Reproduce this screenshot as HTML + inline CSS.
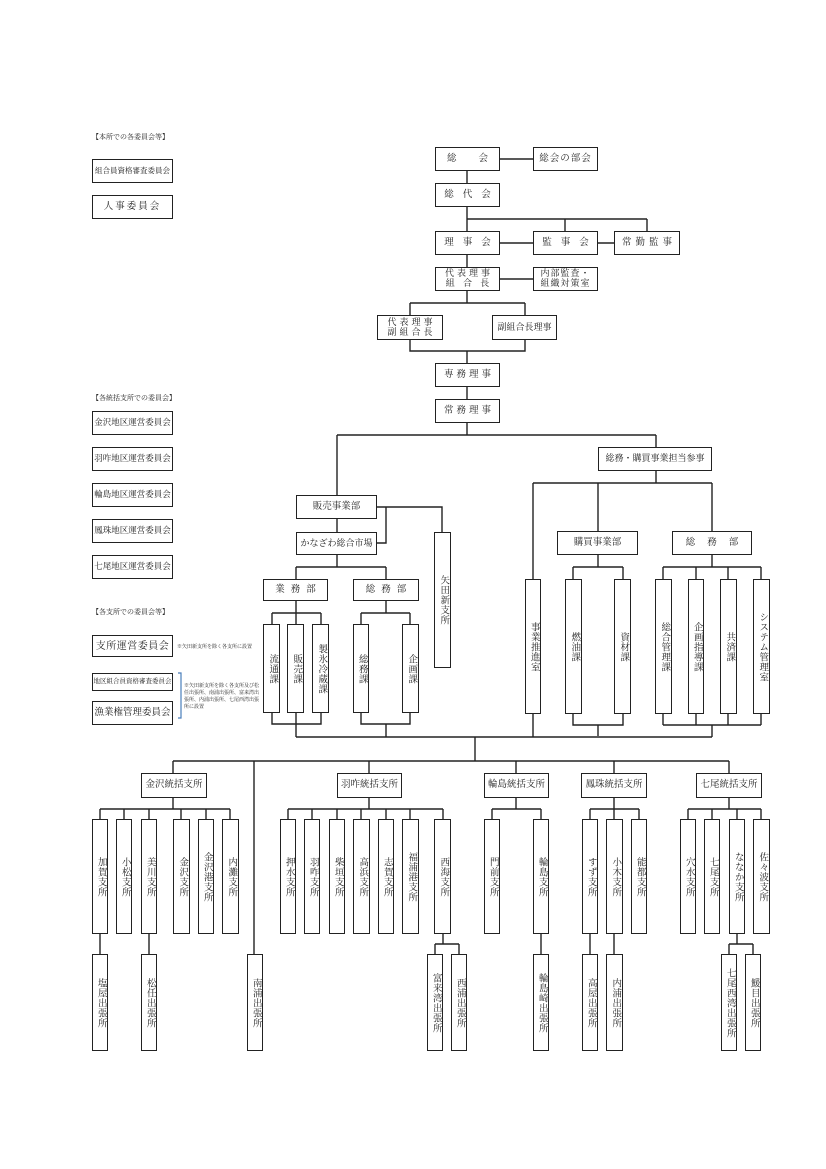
<!DOCTYPE html>
<html><head><meta charset="utf-8"><style>
body{margin:0;background:#fff;}
#c{position:relative;width:826px;height:1169px;overflow:hidden;background:#fff;font-family:"Liberation Serif","Noto Serif CJK SC",serif;color:#222;}
.b{position:absolute;box-sizing:border-box;border:1.6px solid #222;background:#fff;display:flex;align-items:center;justify-content:center;font-size:9.5px;white-space:nowrap;line-height:1.1;text-align:center;}
.v{writing-mode:vertical-rl;text-orientation:upright;letter-spacing:0.5px;font-size:9.5px;line-height:1;}
.t{position:absolute;font-size:7px;white-space:nowrap;}
svg{position:absolute;left:0;top:0;}
</style></head><body><div id="c">
<svg width="826" height="1169"><g stroke="#222" stroke-width="1.4" fill="none">
<path d="M500 159H533M467 171V183M467 207V231M467 219H647M565 219V231M647 219V231M500 243H533M598 243H614M467 255V267M500 279H533M467 291V303M410 303H525M410 303V315M525 303V315M410 340V351H525V340M467 351V363M467 387V399M467 423V435M337 435H656M337 435V495M656 435V447"/>
<path d="M656 471V483M533 483H712M533 483V579M598 483V531M712 483V531M598 555V567M573 567H623M573 567V579M623 567V579M573 714V725H623V714M598 725V736M712 555V567M663 567H761M663 567V579M696 567V579M728 567V579M761 567V579M663 714V725M696 714V725M728 714V725M761 714V725M663 725H761M712 725V737M533 714V737"/>
<path d="M337 519V532M377 507H386V543H377M386 507H442V532M337 555V567M296 567H386M296 567V579M386 567V579M296 601V613M272 613H321M272 613V624M296 613V624M321 613V624M272 713V724H321V713M296 713V724M296 724V737M386 601V613M361 613H410M361 613V624M410 613V624M361 713V724H410V713M386 724V737M296 737H712M475 737V761"/>
<path d="M173 761H729M173 761V773M369 761V773M516 761V773M614 761V773M729 761V773M254 761V954"/>
<path d="M173 798V809M100 809H230M100 809V819M124 809V819M149 809V819M181 809V819M206 809V819M230 809V819M100 934V954M149 934V954"/>
<path d="M369 798V809M288 809H443M288 809V819M312 809V819M337 809V819M361 809V819M386 809V819M410 809V819M443 809V819M443 934V944M435 944H459M435 944V954M459 944V954"/>
<path d="M516 798V809M492 809H541M492 809V819M541 809V819M541 934V954"/>
<path d="M614 798V809M590 809H639M590 809V819M614 809V819M639 809V819M590 934V954M614 934V954"/>
<path d="M729 798V809M688 809H761M688 809V819M712 809V819M737 809V819M761 809V819M737 934V944M729 944H753M729 944V954M753 944V954"/>
</g>
<path d="M178 673H181V718H178" stroke="#4a7ebb" stroke-width="1.2" fill="none"/>
</svg>

<div class="t" style="left:92px;top:132px">【本所での各委員会等】</div>
<div class="b" style="left:92px;top:159px;width:81px;height:24px;font-size:7.5px">組合員資格審査委員会</div>
<div class="b" style="left:92px;top:195px;width:81px;height:24px;letter-spacing:2px">人事委員会</div>
<div class="t" style="left:92px;top:393px">【各統括支所での委員会】</div>
<div class="b" style="left:92px;top:411px;width:81px;height:24px;font-size:8.5px">金沢地区運営委員会</div>
<div class="b" style="left:92px;top:447px;width:81px;height:24px;font-size:8.5px">羽咋地区運営委員会</div>
<div class="b" style="left:92px;top:483px;width:81px;height:24px;font-size:8.5px">輪島地区運営委員会</div>
<div class="b" style="left:92px;top:519px;width:81px;height:24px;font-size:8.5px">鳳珠地区運営委員会</div>
<div class="b" style="left:92px;top:555px;width:81px;height:24px;font-size:8.5px">七尾地区運営委員会</div>
<div class="t" style="left:92px;top:607px">【各支所での委員会等】</div>
<div class="b" style="left:92px;top:635px;width:81px;height:22px;font-size:10px;letter-spacing:0.5px">支所運営委員会</div>
<div class="t" style="left:177px;top:643px;font-size:5px">※矢田新支所を除く各支所に設置</div>
<div class="b" style="left:92px;top:673px;width:81px;height:18px;font-size:6.5px">地区組合員資格審査委員会</div>
<div class="b" style="left:92px;top:701px;width:81px;height:24px;font-size:9.5px">漁業権管理委員会</div>
<div class="t" style="left:184px;top:683px;font-size:5px;line-height:7px;white-space:normal;width:76px">※矢田新支所を除く各支所及び松任出張所、南浦出張所、富来湾出張所、内浦出張所、七尾西湾出張所に設置</div>

<div class="b" style="left:435px;top:147px;width:65px;height:24px;letter-spacing:22px;padding-left:22px">総会</div>
<div class="b" style="left:533px;top:147px;width:65px;height:24px;letter-spacing:1px">総会の部会</div>
<div class="b" style="left:435px;top:183px;width:65px;height:24px;letter-spacing:9px;padding-left:9px">総代会</div>
<div class="b" style="left:435px;top:231px;width:65px;height:24px;letter-spacing:9px;padding-left:9px">理事会</div>
<div class="b" style="left:533px;top:231px;width:65px;height:24px;letter-spacing:9px;padding-left:9px">監事会</div>
<div class="b" style="left:614px;top:231px;width:66px;height:24px;letter-spacing:4px;padding-left:4px">常勤監事</div>
<div class="b" style="left:435px;top:267px;width:65px;height:24px;letter-spacing:3px;padding-left:3px;font-size:9px">代表理事<br>組&nbsp;合&nbsp;長</div>
<div class="b" style="left:533px;top:267px;width:65px;height:24px;letter-spacing:1px;font-size:9px">内部監査・<br>組織対策室</div>
<div class="b" style="left:377px;top:315px;width:66px;height:25px;letter-spacing:3px;padding-left:3px;font-size:9px">代表理事<br>副組合長</div>
<div class="b" style="left:492px;top:315px;width:65px;height:25px;font-size:9px">副組合長理事</div>
<div class="b" style="left:435px;top:363px;width:65px;height:24px;letter-spacing:3px;padding-left:3px">専務理事</div>
<div class="b" style="left:435px;top:399px;width:65px;height:24px;letter-spacing:3px;padding-left:3px">常務理事</div>
<div class="b" style="left:598px;top:447px;width:114px;height:24px;font-size:9px">総務・購買事業担当参事</div>

<div class="b" style="left:296px;top:495px;width:81px;height:24px">販売事業部</div>
<div class="b" style="left:296px;top:532px;width:81px;height:23px;font-size:9px">かなざわ総合市場</div>
<div class="b v" style="left:434px;top:532px;width:17px;height:136px">矢田新支所</div>
<div class="b" style="left:263px;top:579px;width:65px;height:22px;letter-spacing:6px;padding-left:6px">業務部</div>
<div class="b" style="left:353px;top:579px;width:66px;height:22px;letter-spacing:6px;padding-left:6px">総務部</div>
<div class="b v" style="left:263px;top:624px;width:17px;height:89px">流通課</div>
<div class="b v" style="left:287px;top:624px;width:17px;height:89px">販売課</div>
<div class="b v" style="left:312px;top:624px;width:17px;height:89px">製氷冷蔵課</div>
<div class="b v" style="left:353px;top:624px;width:16px;height:89px">総務課</div>
<div class="b v" style="left:402px;top:624px;width:17px;height:89px">企画課</div>

<div class="b" style="left:557px;top:531px;width:81px;height:24px">購買事業部</div>
<div class="b" style="left:672px;top:531px;width:80px;height:24px;letter-spacing:12px;padding-left:12px">総務部</div>
<div class="b v" style="left:525px;top:579px;width:16px;height:135px">事業推進室</div>
<div class="b v" style="left:565px;top:579px;width:17px;height:135px">燃油課</div>
<div class="b v" style="left:614px;top:579px;width:17px;height:135px">資材課</div>
<div class="b v" style="left:655px;top:579px;width:17px;height:135px">総合管理課</div>
<div class="b v" style="left:688px;top:579px;width:16px;height:135px">企画指導課</div>
<div class="b v" style="left:720px;top:579px;width:17px;height:135px">共済課</div>
<div class="b v" style="left:753px;top:579px;width:17px;height:135px">システム管理室</div>

<div class="b" style="left:141px;top:773px;width:66px;height:25px">金沢統括支所</div>
<div class="b" style="left:337px;top:773px;width:65px;height:25px">羽咋統括支所</div>
<div class="b" style="left:484px;top:773px;width:65px;height:25px">輪島統括支所</div>
<div class="b" style="left:581px;top:773px;width:66px;height:25px">鳳珠統括支所</div>
<div class="b" style="left:696px;top:773px;width:66px;height:25px">七尾統括支所</div>

<div class="b v" style="left:92px;top:819px;width:16px;height:115px">加賀支所</div>
<div class="b v" style="left:116px;top:819px;width:16px;height:115px">小松支所</div>
<div class="b v" style="left:141px;top:819px;width:16px;height:115px">美川支所</div>
<div class="b v" style="left:173px;top:819px;width:17px;height:115px">金沢支所</div>
<div class="b v" style="left:198px;top:819px;width:16px;height:115px">金沢港支所</div>
<div class="b v" style="left:222px;top:819px;width:17px;height:115px">内灘支所</div>
<div class="b v" style="left:280px;top:819px;width:16px;height:115px">押水支所</div>
<div class="b v" style="left:304px;top:819px;width:16px;height:115px">羽咋支所</div>
<div class="b v" style="left:329px;top:819px;width:16px;height:115px">柴垣支所</div>
<div class="b v" style="left:353px;top:819px;width:17px;height:115px">高浜支所</div>
<div class="b v" style="left:378px;top:819px;width:16px;height:115px">志賀支所</div>
<div class="b v" style="left:402px;top:819px;width:17px;height:115px">福浦港支所</div>
<div class="b v" style="left:434px;top:819px;width:17px;height:115px">西海支所</div>
<div class="b v" style="left:484px;top:819px;width:16px;height:115px">門前支所</div>
<div class="b v" style="left:533px;top:819px;width:16px;height:115px">輪島支所</div>
<div class="b v" style="left:582px;top:819px;width:16px;height:115px">すず支所</div>
<div class="b v" style="left:606px;top:819px;width:17px;height:115px">小木支所</div>
<div class="b v" style="left:631px;top:819px;width:16px;height:115px">能都支所</div>
<div class="b v" style="left:680px;top:819px;width:16px;height:115px">穴水支所</div>
<div class="b v" style="left:704px;top:819px;width:16px;height:115px">七尾支所</div>
<div class="b v" style="left:729px;top:819px;width:16px;height:115px">ななか支所</div>
<div class="b v" style="left:753px;top:819px;width:17px;height:115px">佐々波支所</div>

<div class="b v" style="left:92px;top:954px;width:16px;height:97px">塩屋出張所</div>
<div class="b v" style="left:141px;top:954px;width:16px;height:97px">松任出張所</div>
<div class="b v" style="left:247px;top:954px;width:16px;height:97px">南浦出張所</div>
<div class="b v" style="left:427px;top:954px;width:16px;height:97px">富来湾出張所</div>
<div class="b v" style="left:451px;top:954px;width:16px;height:97px">西浦出張所</div>
<div class="b v" style="left:533px;top:954px;width:16px;height:97px">輪島崎出張所</div>
<div class="b v" style="left:582px;top:954px;width:16px;height:97px">高屋出張所</div>
<div class="b v" style="left:606px;top:954px;width:17px;height:97px">内浦出張所</div>
<div class="b v" style="left:721px;top:954px;width:16px;height:97px">七尾西湾出張所</div>
<div class="b v" style="left:745px;top:954px;width:16px;height:97px">鰀目出張所</div>
</div></body></html>
